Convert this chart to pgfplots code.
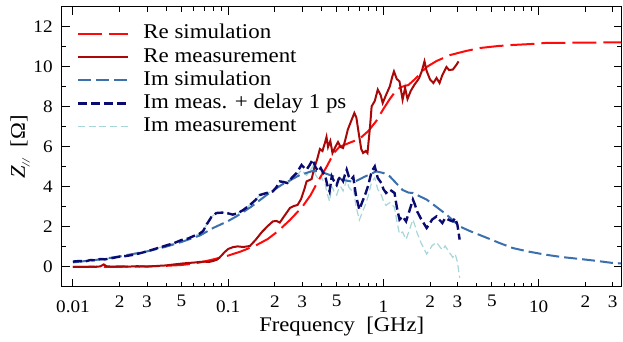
\documentclass[border=0pt]{standalone}
\usepackage{fontspec}
\setmainfont{Liberation Serif}[FakeStretch=1.09]
\usepackage{pgfplots}
\pgfplotsset{compat=1.18}
\definecolor{resim}{HTML}{FF0A0A}
\definecolor{remeas}{HTML}{A80808}
\definecolor{imsim}{HTML}{3B6FAD}
\definecolor{imdel}{HTML}{0A0A70}
\definecolor{immeas}{HTML}{A8D6D8}
\pgfplotsset{mylegend/.style={legend image code/.code={\draw[##1] (0pt,0pt) -- (25pt,0pt);}}}
\begin{document}
\begin{tikzpicture}
\path[use as bounding box] (-31pt,-27.5pt) rectangle (280.5pt,143.5pt);
\begin{axis}[
  scale only axis, width=279.75pt, height=140pt,
  at={(0,0)}, anchor=south west,
  xmode=log, xmin=0.0085, xmax=34.2, ymin=-1, ymax=13,
  axis line style={line width=0.5pt},
  every tick/.style={black, line width=0.5pt},
  tick align=inside,
  major tick length=4pt, minor tick length=2pt,
  xtick={0.01,0.1,1,10}, xticklabels={0.01,0.1,1,10},
  minor xtick={0.02,0.03,0.04,0.05,0.06,0.07,0.08,0.09,0.2,0.3,0.4,0.5,0.6,0.7,0.8,0.9,2,3,4,5,6,7,8,9,20,30},
  extra x ticks={0.02,0.03,0.05,0.2,0.3,0.5,2,3,5,20,30},
  extra x tick labels={2,3,5,2,3,5,2,3,5,2,3},
  extra x tick style={major tick length=2.6pt, xticklabel style={yshift=2.5pt}},
  ytick={0,2,4,6,8,10,12},
  minor ytick={-1,1,3,5,7,9,11,13},
  /pgf/number format/assume math mode=true,
  tick label style={font=\fontsize{8.8}{10}\selectfont},
  xticklabel style={inner sep=0pt, anchor=north, yshift=-6.5pt},
  yticklabel style={inner sep=0pt, anchor=east, xshift=-4.5pt},
  xlabel={Frequency\ \ [GHz]},
  ylabel={\textit{Z}\raisebox{-0.5ex}{\textit{\fontsize{5.5}{6}\selectfont //}}\ \ [Ω]},
  label style={font=\fontsize{10.4}{12}\selectfont},
  xlabel style={at={(axis description cs:0.5,-0.107)}, anchor=north, inner sep=0pt},
  ylabel style={at={(axis description cs:-0.075,0.5)}, anchor=center, inner sep=0pt},
  legend style={at={(axis description cs:0,1)}, anchor=north west, xshift=7.5pt, yshift=-8.5pt,
    draw=none, fill=none, inner sep=0pt, outer sep=0pt, row sep=1.6pt,
    font=\fontsize{10.5}{12.5}\selectfont,
    nodes={inner sep=0pt, text height=7.5pt, text depth=2.5pt},
    /tikz/every odd column/.append style={column sep=7pt}},
  legend cell align=left,
]
% Im measurement (drawn first, legend last)
\addplot[immeas, line width=0.6pt, dash pattern=on 3.5pt off 1.8pt, forget plot] coordinates {
(0.01,0.27) (0.011,0.3) (0.012,0.28) (0.013,0.35) (0.014,0.33) (0.015,0.4) (0.016,0.38) (0.018,0.45) (0.02,0.52) (0.022,0.55) (0.025,0.62) (0.028,0.72) (0.03,0.78) (0.033,0.88) (0.036,0.97) (0.04,1.08) (0.045,1.2) (0.05,1.35) (0.055,1.42) (0.06,1.55) (0.065,1.65) (0.069,1.8) (0.073,2.15) (0.078,2.5) (0.084,2.7) (0.092,2.72) (0.1,2.68) (0.107,2.62) (0.115,2.68) (0.125,2.85) (0.138,3.1) (0.15,3.35) (0.16,3.6) (0.177,3.7) (0.194,3.78) (0.205,4.0) (0.215,4.28)
(0.228,4.23) (0.24,4.15) (0.26,4.4) (0.276,4.55) (0.297,4.85) (0.31,4.68) (0.32,4.58) (0.335,4.78) (0.35,5.02) (0.365,4.63) (0.38,4.4) (0.395,4.56) (0.41,4.3) (0.42,4.2) (0.435,3.65) (0.45,3.28) (0.465,4.03) (0.48,3.8) (0.5,3.6) (0.515,3.9) (0.53,4.03) (0.55,3.8) (0.565,4.08) (0.58,4.35) (0.6,3.98) (0.62,3.85) (0.64,3.97) (0.665,3.07) (0.7,2.35) (0.735,2.77) (0.77,3.17) (0.8,3.57) (0.84,4.23) (0.88,4.47) (0.92,3.88) (0.97,3.6) (1.0,3.3) (1.04,3.08) (1.1,3.22) (1.18,2.98) (1.22,2.3) (1.27,1.65) (1.33,1.75) (1.4,1.38) (1.47,1.85) (1.55,2.37) (1.6,2.05) (1.65,1.7) (1.75,1.2) (1.9,0.65) (2.0,0.9) (2.06,1.07) (2.2,1.23) (2.3,1.03) (2.4,0.85) (2.5,1.05) (2.65,0.75) (2.8,0.48) (2.9,0.65) (3.0,0.25) (3.1,-0.55)
};
% Re simulation
\addplot[resim, line width=1pt, dash pattern=on 12pt off 3.5pt, mylegend] coordinates {
(0.01,0) (0.015,0.005) (0.02,0.01) (0.03,0.03) (0.04,0.06) (0.05,0.1) (0.06,0.17) (0.07,0.27) (0.08,0.38) (0.09,0.48) (0.1,0.57) (0.12,0.77) (0.15,1.07) (0.18,1.4) (0.21,1.8) (0.25,2.35) (0.3,3.0) (0.34,3.6) (0.38,4.3) (0.43,5.0) (0.48,5.7) (0.52,6.0) (0.6,6.2) (0.7,6.4) (0.8,6.8) (0.9,7.3) (1.0,7.9) (1.1,8.4) (1.2,8.8) (1.3,9.0) (1.45,9.1) (1.6,9.4) (1.9,10.0) (2.2,10.3) (2.7,10.6) (3.4,10.8) (4.2,10.95) (5.5,11.05) (6.8,11.1) (9,11.15) (11,11.2) (20,11.22) (34,11.23)
};
\addlegendentry{Re simulation}
% Re measurement
\addplot[remeas, line width=1pt, mylegend] coordinates {
(0.01,0.0) (0.011,0.01) (0.012,0.0) (0.013,0.02) (0.014,0.01) (0.015,0.03) (0.0158,0.13) (0.0165,0.03) (0.018,0.02) (0.02,0.03) (0.023,0.02) (0.026,0.04) (0.03,0.02) (0.033,0.04) (0.036,0.06) (0.04,0.08) (0.045,0.13) (0.05,0.17) (0.055,0.2) (0.06,0.22) (0.065,0.25) (0.07,0.27) (0.075,0.25) (0.08,0.3) (0.085,0.37) (0.09,0.55) (0.095,0.75) (0.1,0.9) (0.107,0.99) (0.115,1.03) (0.125,1.0) (0.138,1.05) (0.15,1.35) (0.165,1.75) (0.18,2.05) (0.194,2.28) (0.205,2.3) (0.215,2.22) (0.23,2.55) (0.25,2.95) (0.265,3.05) (0.28,3.1) (0.295,3.4) (0.31,3.9) (0.32,4.28) (0.335,4.35) (0.345,4.4) (0.36,5.0) (0.375,5.4) (0.39,5.9) (0.405,5.8) (0.42,6.2) (0.43,6.5) (0.44,6.0) (0.455,6.3) (0.47,5.7) (0.49,6.0) (0.51,6.25) (0.53,6.0) (0.55,5.95) (0.57,6.4) (0.59,6.87) (0.62,7.3) (0.65,7.7) (0.67,7.47) (0.69,6.8) (0.72,5.9) (0.74,5.7) (0.77,5.8) (0.79,5.7) (0.82,7.0) (0.84,8.03) (0.88,8.3) (0.92,8.87) (0.96,8.6) (0.99,8.2) (1.04,8.6) (1.1,9.03) (1.14,9.5) (1.17,9.78) (1.22,9.4) (1.27,9.28) (1.33,8.37) (1.38,8.95) (1.43,8.4) (1.5,8.8) (1.58,9.1) (1.65,9.3) (1.7,9.45) (1.77,9.8) (1.84,10.28) (1.9,9.8) (2.0,9.37) (2.1,9.2) (2.2,9.45) (2.3,9.2) (2.4,9.6) (2.55,10.0) (2.65,9.85) (2.8,9.87) (2.95,10.1) (3.05,10.28)
};
\addlegendentry{Re measurement}
% Im simulation
\addplot[imsim, line width=1pt, dash pattern=on 6.5pt off 2.5pt, mylegend] coordinates {
(0.01,0.23) (0.015,0.38) (0.02,0.53) (0.03,0.78) (0.04,1.02) (0.05,1.25) (0.066,1.58) (0.08,1.95) (0.1,2.3) (0.113,2.53) (0.14,3.0) (0.177,3.6) (0.22,4.1) (0.29,4.6) (0.35,4.8) (0.39,4.78) (0.47,4.55) (0.55,4.35) (0.65,4.25) (0.75,4.5) (0.9,4.78) (1.0,4.7) (1.1,4.53) (1.33,3.85) (1.45,3.72) (1.55,3.7) (1.7,3.55) (1.9,3.37) (2.2,3.0) (2.55,2.62) (3.1,2.03) (3.6,1.8) (4.4,1.53) (5.6,1.2) (6.8,0.95) (8.5,0.78) (11,0.62) (14,0.5) (18.5,0.4) (24,0.3) (30,0.2) (34,0.18)
};
\addlegendentry{Im simulation}
% Im meas. + delay
\addplot[imdel, line width=1.2pt, dash pattern=on 4.5pt off 2pt, mylegend] coordinates {
(0.01,0.27) (0.011,0.3) (0.012,0.28) (0.013,0.35) (0.014,0.33) (0.015,0.4) (0.016,0.38) (0.018,0.45) (0.02,0.52) (0.022,0.55) (0.025,0.62) (0.028,0.72) (0.03,0.78) (0.033,0.88) (0.036,0.97) (0.04,1.08) (0.045,1.2) (0.05,1.35) (0.055,1.42) (0.06,1.55) (0.065,1.65) (0.069,1.8) (0.073,2.15) (0.078,2.5) (0.084,2.7) (0.092,2.72) (0.1,2.68) (0.107,2.62) (0.115,2.68) (0.125,2.85) (0.138,3.1) (0.15,3.35) (0.16,3.6) (0.177,3.7) (0.194,3.78) (0.205,4.0) (0.215,4.28) (0.228,4.25) (0.24,4.2) (0.26,4.5) (0.276,4.7) (0.297,5.1) (0.31,4.95) (0.32,4.87) (0.335,5.1) (0.35,5.37) (0.365,5.0) (0.38,4.78) (0.395,4.95) (0.41,4.7) (0.42,4.62) (0.435,4.1) (0.45,3.78) (0.465,4.53) (0.48,4.3) (0.5,4.1) (0.515,4.4) (0.53,4.53) (0.55,4.3) (0.565,4.6) (0.58,4.87) (0.6,4.5) (0.62,4.37) (0.64,4.5) (0.665,3.6) (0.7,2.87) (0.735,3.3) (0.77,3.7) (0.8,4.1) (0.84,4.78) (0.88,5.03) (0.92,4.45) (0.97,4.2) (1.0,3.9) (1.04,3.7) (1.1,3.87) (1.18,3.7) (1.22,3.0) (1.27,2.37) (1.33,2.53) (1.4,2.28) (1.47,2.8) (1.55,3.37) (1.6,3.1) (1.65,2.78) (1.75,2.4) (1.9,1.95) (2.0,2.2) (2.06,2.37) (2.2,2.53) (2.3,2.35) (2.4,2.2) (2.5,2.45) (2.65,2.35) (2.8,2.28) (2.9,2.45) (3.0,2.1) (3.1,1.37)
};
\addlegendentry{Im meas. + delay 1 ps}
\addlegendimage{immeas, line width=0.6pt, dash pattern=on 3.5pt off 1.8pt, mylegend}
\addlegendentry{Im measurement}
\end{axis}
\end{tikzpicture}
\end{document}
